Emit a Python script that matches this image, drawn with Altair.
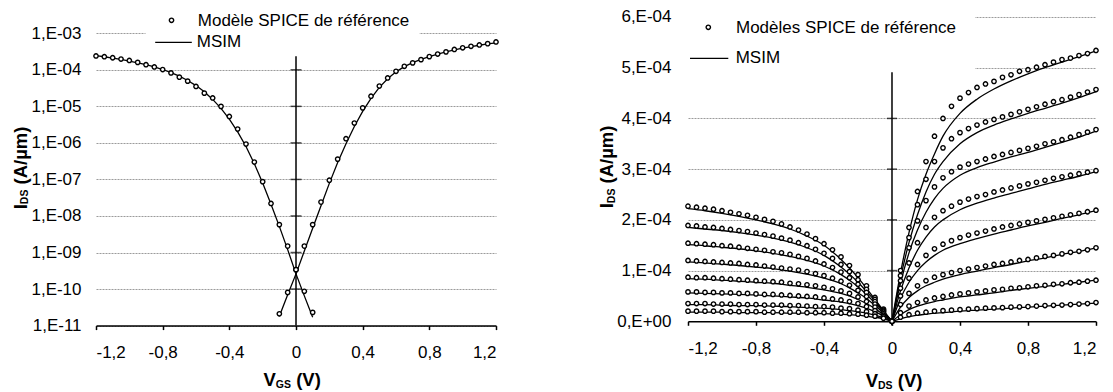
import altair as alt
import pandas as pd

FONT = "Liberation Sans"
LBL = 17
TTL = 18.5
SUB = 10.5

# ---------------- left panel : IDS(VGS), log scale ----------------
vgs_pmos = [round(-1.2 + 0.05 * k, 2) for k in range(27)]   # -1.2 .. 0.1
vgs_nmos = [round(-0.1 + 0.05 * k, 2) for k in range(27)]   # -0.1 .. 1.2

spice_pmos = [2.4e-4, 2.28e-4, 2.14e-4, 1.97e-4, 1.8e-4, 1.6e-4, 1.38e-4, 1.2e-4, 1.02e-4,
              8.2e-5, 6.3e-5, 4.9e-5, 3.5e-5, 2.3e-5, 1.7e-5, 1.0e-5, 5.3e-6, 2.4e-6,
              9.3e-7, 3.0e-7, 8.7e-8, 2.2e-8, 5.8e-9, 1.5e-9, 3.4e-10, 8.7e-11, 2.3e-11]
spice_nmos = [2.1e-11, 8.1e-11, 3.4e-10, 1.5e-9, 5.8e-9, 2.4e-8, 9.5e-8, 3.6e-7, 1.3e-6,
              3.5e-6, 9.1e-6, 1.9e-5, 3.6e-5, 6.0e-5, 9.1e-5, 1.25e-4, 1.55e-4, 1.9e-4,
              2.3e-4, 2.7e-4, 3.1e-4, 3.6e-4, 4.0e-4, 4.4e-4, 4.8e-4, 5.2e-4, 5.8e-4]
msim_pmos = [2.45e-4, 2.28e-4, 2.1e-4, 1.92e-4, 1.74e-4, 1.56e-4, 1.38e-4, 1.2e-4, 1.02e-4,
             8.4e-5, 6.7e-5, 5.1e-5, 3.7e-5, 2.5e-5, 1.55e-5, 8.8e-6, 4.5e-6, 2.0e-6,
             8.0e-7, 2.7e-7, 8.0e-8, 2.1e-8, 5.2e-9, 1.2e-9, 2.6e-10, 6.5e-11, 1.7e-11]
msim_nmos = [1.8e-11, 7.0e-11, 2.6e-10, 1.1e-9, 4.6e-9, 1.9e-8, 7.8e-8, 2.9e-7, 9.5e-7,
             2.8e-6, 7.3e-6, 1.65e-5, 3.3e-5, 5.7e-5, 8.8e-5, 1.22e-4, 1.57e-4, 1.93e-4,
             2.3e-4, 2.7e-4, 3.1e-4, 3.5e-4, 3.9e-4, 4.3e-4, 4.7e-4, 5.1e-4, 5.5e-4]

left_xticks = [-1.2, -0.8, -0.4, 0, 0.4, 0.8, 1.2]
left_yticks = [1e-11, 1e-10, 1e-9, 1e-8, 1e-7, 1e-6, 1e-5, 1e-4, 1e-3]

# ---------------- right panel : IDS(VDS), linear scale (units 1e-4 A/um) ----------------
vds_pos = [round(0.05 * k, 2) for k in range(25)]          # 0 .. 1.2
vds_neg = [round(-1.2 + 0.05 * k, 2) for k in range(25)]   # -1.2 .. 0
vds_pos_line = [0, 0.05, 0.1, 0.15, 0.2, 0.25, 0.3, 0.4, 0.5, 0.6, 0.7, 0.8, 0.9, 1.0, 1.1, 1.2]
vds_neg_line = [-1.2, -1.1, -1.0, -0.9, -0.8, -0.7, -0.6, -0.5, -0.4, -0.3, -0.25, -0.2, -0.15, -0.1, -0.05, 0]

spice_n1 = [0, 1.0, 1.85, 2.56, 3.15, 3.65, 4.0, 4.24, 4.40, 4.51, 4.61, 4.68, 4.73, 4.81, 4.86, 4.93, 4.96, 5.01, 5.06, 5.11, 5.16, 5.19, 5.24, 5.28, 5.34]
spice_n2 = [0, 0.9, 1.65, 2.3, 2.8, 3.15, 3.42, 3.6, 3.72, 3.8, 3.87, 3.93, 3.98, 4.03, 4.08, 4.13, 4.18, 4.23, 4.28, 4.33, 4.37, 4.42, 4.47, 4.52, 4.57]
spice_n3 = [0, 0.8, 1.45, 1.98, 2.38, 2.65, 2.83, 2.95, 3.04, 3.1, 3.15, 3.2, 3.25, 3.29, 3.33, 3.37, 3.41, 3.45, 3.5, 3.54, 3.58, 3.63, 3.68, 3.73, 3.78]
spice_n4 = [0, 0.65, 1.15, 1.55, 1.85, 2.05, 2.18, 2.27, 2.35, 2.41, 2.46, 2.5, 2.55, 2.59, 2.63, 2.67, 2.71, 2.74, 2.78, 2.82, 2.85, 2.88, 2.91, 2.94, 2.97]
spice_n5 = [0, 0.5, 0.85, 1.12, 1.3, 1.43, 1.52, 1.59, 1.65, 1.7, 1.74, 1.78, 1.82, 1.86, 1.89, 1.92, 1.95, 1.98, 2.01, 2.04, 2.07, 2.1, 2.13, 2.16, 2.19]
spice_n6 = [0, 0.33, 0.55, 0.7, 0.8, 0.87, 0.92, 0.96, 1.0, 1.03, 1.06, 1.09, 1.12, 1.14, 1.17, 1.2, 1.22, 1.25, 1.28, 1.3, 1.33, 1.36, 1.38, 1.41, 1.45]
spice_n7 = [0, 0.17, 0.3, 0.37, 0.42, 0.46, 0.49, 0.52, 0.54, 0.56, 0.58, 0.6, 0.62, 0.63, 0.65, 0.66, 0.68, 0.7, 0.71, 0.73, 0.74, 0.76, 0.77, 0.79, 0.81]
spice_n8 = [0, 0.08, 0.13, 0.16, 0.18, 0.2, 0.21, 0.22, 0.23, 0.24, 0.25, 0.26, 0.265, 0.27, 0.28, 0.285, 0.29, 0.3, 0.31, 0.315, 0.32, 0.33, 0.34, 0.35, 0.37]

spice_p1 = [2.27, 2.25, 2.23, 2.21, 2.18, 2.15, 2.12, 2.09, 2.05, 2.01, 1.97, 1.92, 1.86, 1.8, 1.72, 1.63, 1.53, 1.41, 1.27, 1.1, 0.92, 0.7, 0.47, 0.24, 0]
spice_p2 = [1.89, 1.88, 1.86, 1.85, 1.83, 1.81, 1.79, 1.77, 1.74, 1.71, 1.68, 1.64, 1.6, 1.55, 1.49, 1.42, 1.34, 1.24, 1.12, 0.98, 0.82, 0.63, 0.43, 0.22, 0]
spice_p3 = [1.54, 1.53, 1.52, 1.51, 1.49, 1.48, 1.46, 1.44, 1.42, 1.4, 1.37, 1.35, 1.32, 1.28, 1.24, 1.19, 1.13, 1.06, 0.97, 0.86, 0.73, 0.57, 0.39, 0.2, 0]
spice_p4 = [1.2, 1.19, 1.18, 1.17, 1.16, 1.15, 1.14, 1.12, 1.11, 1.09, 1.07, 1.05, 1.03, 1.01, 0.98, 0.94, 0.9, 0.85, 0.79, 0.71, 0.61, 0.49, 0.34, 0.18, 0]
spice_p5 = [0.87, 0.86, 0.86, 0.85, 0.84, 0.83, 0.82, 0.81, 0.8, 0.79, 0.78, 0.77, 0.75, 0.74, 0.72, 0.7, 0.67, 0.64, 0.6, 0.55, 0.48, 0.39, 0.28, 0.15, 0]
spice_p6 = [0.58, 0.58, 0.57, 0.57, 0.56, 0.56, 0.55, 0.55, 0.54, 0.53, 0.53, 0.52, 0.51, 0.5, 0.49, 0.48, 0.46, 0.44, 0.42, 0.39, 0.35, 0.29, 0.21, 0.12, 0]
spice_p7 = [0.35, 0.35, 0.35, 0.34, 0.34, 0.34, 0.33, 0.33, 0.33, 0.32, 0.32, 0.32, 0.31, 0.31, 0.3, 0.29, 0.29, 0.28, 0.26, 0.25, 0.22, 0.19, 0.15, 0.09, 0]
spice_p8 = [0.2, 0.2, 0.2, 0.2, 0.19, 0.19, 0.19, 0.19, 0.19, 0.18, 0.18, 0.18, 0.18, 0.18, 0.17, 0.17, 0.17, 0.16, 0.16, 0.15, 0.14, 0.12, 0.1, 0.06, 0]

msim_n1 = [0, 0.95, 1.75, 2.4, 2.9, 3.3, 3.65, 4.1, 4.38, 4.58, 4.74, 4.88, 5.0, 5.11, 5.22, 5.33]
msim_n2 = [0, 0.85, 1.55, 2.1, 2.55, 2.9, 3.15, 3.5, 3.72, 3.87, 3.99, 4.1, 4.2, 4.3, 4.41, 4.53]
msim_n3 = [0, 0.75, 1.35, 1.8, 2.15, 2.42, 2.62, 2.88, 3.03, 3.14, 3.24, 3.33, 3.43, 3.53, 3.63, 3.75]
msim_n4 = [0, 0.6, 1.05, 1.4, 1.66, 1.86, 2.0, 2.2, 2.33, 2.43, 2.52, 2.61, 2.7, 2.78, 2.86, 2.95]
msim_n5 = [0, 0.45, 0.77, 1.0, 1.17, 1.3, 1.4, 1.53, 1.63, 1.72, 1.8, 1.88, 1.95, 2.03, 2.1, 2.18]
msim_n6 = [0, 0.28, 0.47, 0.6, 0.7, 0.77, 0.83, 0.92, 0.99, 1.06, 1.12, 1.19, 1.25, 1.32, 1.38, 1.45]
msim_n7 = [0, 0.13, 0.23, 0.3, 0.35, 0.39, 0.42, 0.48, 0.52, 0.56, 0.61, 0.65, 0.69, 0.73, 0.77, 0.81]
msim_n8 = [0, 0.05, 0.09, 0.12, 0.14, 0.16, 0.17, 0.2, 0.22, 0.24, 0.26, 0.28, 0.3, 0.32, 0.34, 0.36]

msim_p1 = [2.22, 2.18, 2.13, 2.07, 2.0, 1.92, 1.82, 1.68, 1.5, 1.22, 1.05, 0.86, 0.65, 0.43, 0.21, 0]
msim_p2 = [1.85, 1.82, 1.79, 1.75, 1.7, 1.64, 1.56, 1.45, 1.3, 1.07, 0.93, 0.77, 0.59, 0.4, 0.2, 0]
msim_p3 = [1.51, 1.49, 1.46, 1.43, 1.39, 1.34, 1.28, 1.2, 1.09, 0.92, 0.81, 0.68, 0.53, 0.36, 0.18, 0]
msim_p4 = [1.17, 1.15, 1.13, 1.1, 1.07, 1.04, 0.99, 0.93, 0.85, 0.74, 0.66, 0.56, 0.45, 0.31, 0.16, 0]
msim_p5 = [0.84, 0.83, 0.81, 0.79, 0.77, 0.75, 0.71, 0.67, 0.62, 0.55, 0.5, 0.43, 0.35, 0.25, 0.13, 0]
msim_p6 = [0.56, 0.55, 0.54, 0.53, 0.52, 0.5, 0.48, 0.46, 0.42, 0.38, 0.35, 0.31, 0.26, 0.19, 0.1, 0]
msim_p7 = [0.33, 0.33, 0.32, 0.31, 0.31, 0.3, 0.29, 0.27, 0.26, 0.23, 0.21, 0.19, 0.16, 0.12, 0.07, 0]
msim_p8 = [0.18, 0.18, 0.18, 0.17, 0.17, 0.17, 0.16, 0.16, 0.15, 0.14, 0.13, 0.12, 0.1, 0.08, 0.05, 0]

right_xticks = [-1.2, -0.8, -0.4, 0, 0.4, 0.8, 1.2]
right_yticks = [0, 1e-4, 2e-4, 3e-4, 4e-4, 5e-4, 6e-4]

legend_left = ["Modèle SPICE de référence", "MSIM"]
legend_right = ["Modèles SPICE de référence", "MSIM"]

# ---------------- tables ----------------
left_pts = pd.DataFrame({"v": vgs_pmos + vgs_nmos, "i": spice_pmos + spice_nmos,
                         "c": ["p"] * 27 + ["n"] * 27})
left_lin = pd.DataFrame({"v": vgs_pmos + vgs_nmos, "i": msim_pmos + msim_nmos,
                         "c": ["p"] * 27 + ["n"] * 27})

def stack(xs, series, prefix):
    rows = []
    for k, s in enumerate(series):
        for x, y in zip(xs, s):
            rows.append({"v": x, "i": y * 1e-4, "c": f"{prefix}{k}"})
    return rows

right_pts = pd.DataFrame(
    stack(vds_pos, [spice_n1, spice_n2, spice_n3, spice_n4, spice_n5, spice_n6, spice_n7, spice_n8], "n")
    + stack(vds_neg, [spice_p1, spice_p2, spice_p3, spice_p4, spice_p5, spice_p6, spice_p7, spice_p8], "p"))
right_lin = pd.DataFrame(
    stack(vds_pos_line, [msim_n1, msim_n2, msim_n3, msim_n4, msim_n5, msim_n6, msim_n7, msim_n8], "n")
    + stack(vds_neg_line, [msim_p1, msim_p2, msim_p3, msim_p4, msim_p5, msim_p6, msim_p7, msim_p8], "p"))

one = pd.DataFrame({"a": [0]})

# ---------------- geometry ----------------
H = 308.6
LW, RW = 400, 408
L_TOP = 2.79e-3
R_MIN = -8.48e-6
MSIZE = 19
MSTROKE = 1.4

GRID = dict(grid=True, gridColor="#9a9a9a", gridDash=[2, 1], gridWidth=1)
LABEL = dict(labelFont=FONT, labelFontSize=LBL, labelColor="black")

def xaxis(offset=0):
    return alt.Axis(values=right_xticks, title=None, grid=False, domainColor="black",
                    domainWidth=1.5, tickColor="black", tickWidth=1.5, tickSize=4,
                    labelPadding=15, offset=offset,
                    labelExpr="replace(toString(datum.value), '.', ',')", **LABEL)

SPACE = 0.278 * TTL

def axis_title(sub, x0, y0, rotate=False):
    subw = (0.722 + 0.667) * SUB if sub == "DS" else (0.778 + 0.667) * SUB
    if not rotate:
        parts = [("V", x0, y0, TTL), (sub, x0 + 0.667 * TTL, y0 + 1.7, SUB),
                 ("(V)", x0 + 0.667 * TTL + subw + SPACE, y0, TTL)]
        return [alt.Chart(one).mark_text(text=t, align="left", baseline="alphabetic", font=FONT,
                                         fontSize=fs, fontWeight="bold", color="black")
                .encode(x=alt.value(x), y=alt.value(y)) for t, x, y, fs in parts]
    iw = 0.278 * TTL
    parts = [("I", x0, y0, TTL), (sub, x0 + 1.7, y0 - iw, SUB),
             ("(A/µm)", x0, y0 - iw - subw - SPACE, TTL)]
    return [alt.Chart(one).mark_text(text=t, align="left", baseline="alphabetic", font=FONT,
                                     fontSize=fs, fontWeight="bold", color="black", angle=270)
            .encode(x=alt.value(x), y=alt.value(y)) for t, x, y, fs in parts]

def legend(labels, box, pt, line, tx, ty):
    return [
        alt.Chart(one).mark_rect(fill="white").encode(
            x=alt.value(box[0]), x2=alt.value(box[1]), y=alt.value(box[2]), y2=alt.value(box[3])),
        alt.Chart(one).mark_point(shape="circle", size=MSIZE, fill="white", fillOpacity=1,
                                  stroke="black", strokeWidth=MSTROKE, opacity=1).encode(
            x=alt.value(pt[0]), y=alt.value(pt[1])),
        alt.Chart(one).mark_rule(color="black", strokeWidth=1.3).encode(
            x=alt.value(line[0]), x2=alt.value(line[1]), y=alt.value(line[2])),
        alt.Chart(one).mark_text(text=labels[0], align="left", baseline="middle", font=FONT,
                                 fontSize=LBL, color="black").encode(x=alt.value(tx[0]), y=alt.value(ty[0])),
        alt.Chart(one).mark_text(text=labels[1], align="left", baseline="middle", font=FONT,
                                 fontSize=LBL, color="black").encode(x=alt.value(tx[1]), y=alt.value(ty[1])),
    ]

def points(df, xs, ys):
    return alt.Chart(df).mark_point(shape="circle", size=MSIZE, fill="white", fillOpacity=1,
                                    stroke="black", strokeWidth=MSTROKE, opacity=1).encode(
        x=alt.X("v:Q", scale=xs), y=alt.Y("i:Q", scale=ys))

# ---------------- left chart ----------------
lx = alt.Scale(domain=[-1.2, 1.2], nice=False, zero=False)
ly = alt.Scale(type="log", domain=[1e-11, L_TOP], nice=False)

l_base = alt.Chart(left_lin).mark_line(color="black", strokeWidth=1.3).encode(
    x=alt.X("v:Q", scale=lx, axis=xaxis()),
    y=alt.Y("i:Q", scale=ly, axis=alt.Axis(
        values=left_yticks, title=None, domain=False, ticks=False, tickSize=0, labelPadding=15,
        labelExpr="'1,E-' + pad(toString(round(-log(datum.value) / LN10)), 2, '0', 'left')",
        **GRID, **LABEL)),
    detail="c:N", order="v:Q")
l_zero = alt.Chart(pd.DataFrame({"v": [0]})).mark_rule(color="black", strokeWidth=1.5).encode(
    x=alt.X("v:Q", scale=lx))
l_ticks = alt.Chart(pd.DataFrame({"v": [0] * 8, "i": left_yticks[1:]})).mark_tick(
    orient="horizontal", size=11, thickness=1.5, color="black").encode(
    x=alt.X("v:Q", scale=lx), y=alt.Y("i:Q", scale=ly))

l_leg = legend(legend_left, (49.5, 323.5, -9, 39.3), (75.5, 3.3), (59.2, 95.8, 25.3),
               (101.8, 100.8), (4.0, 25.5))
left = alt.layer(
    l_zero, l_ticks, l_leg[0], l_base, points(left_pts, lx, ly), *l_leg[1:],
    *axis_title("GS", 167.5, 369.3),
    *axis_title("DS", -69.5, 192.3, rotate=True),
).properties(width=LW, height=H)

# ---------------- right chart ----------------
rx = alt.Scale(domain=[-1.2, 1.2], nice=False, zero=False)
ry = alt.Scale(domain=[R_MIN, 6e-4], nice=False, zero=False)

r_base = alt.Chart(right_lin).mark_line(color="black", strokeWidth=1.3, interpolate="monotone").encode(
    x=alt.X("v:Q", scale=rx, axis=xaxis(offset=-4.3)),
    y=alt.Y("i:Q", scale=ry, axis=alt.Axis(
        values=right_yticks, title=None, domain=False, ticks=False, tickSize=0, labelPadding=17,
        labelExpr="datum.value == 0 ? '0,E+00' : round(datum.value * 1e4) + ',E-04'",
        **GRID, **LABEL)),
    detail="c:N", order="v:Q")
r_zero = alt.Chart(pd.DataFrame({"v": [0]})).mark_rule(color="black", strokeWidth=1.5).encode(
    x=alt.X("v:Q", scale=rx))
r_ticks = alt.Chart(pd.DataFrame({"v": [0] * 6, "i": right_yticks[1:]})).mark_tick(
    orient="horizontal", size=10, thickness=1.5, color="black").encode(
    x=alt.X("v:Q", scale=rx), y=alt.Y("i:Q", scale=ry))

r_leg = legend(legend_right, (-2, 287, -9, 55.3), (20.3, 10.3), (2, 40.3, 41.3), (48, 47.7), (11.5, 41.3))
right = alt.layer(
    r_zero, r_ticks, r_leg[0], r_base, points(right_pts, rx, ry), *r_leg[1:],
    *axis_title("DS", 177.7, 370.3),
    *axis_title("DS", -75, 191.3, rotate=True),
).properties(width=RW, height=H)

chart = alt.hconcat(left, right, spacing=97).properties(
    padding={"left": 3, "top": 0, "right": 0, "bottom": 0}
).configure(font=FONT).configure_view(strokeWidth=0)

chart.save("out.html", embed_options={"renderer": "svg", "actions": False})
